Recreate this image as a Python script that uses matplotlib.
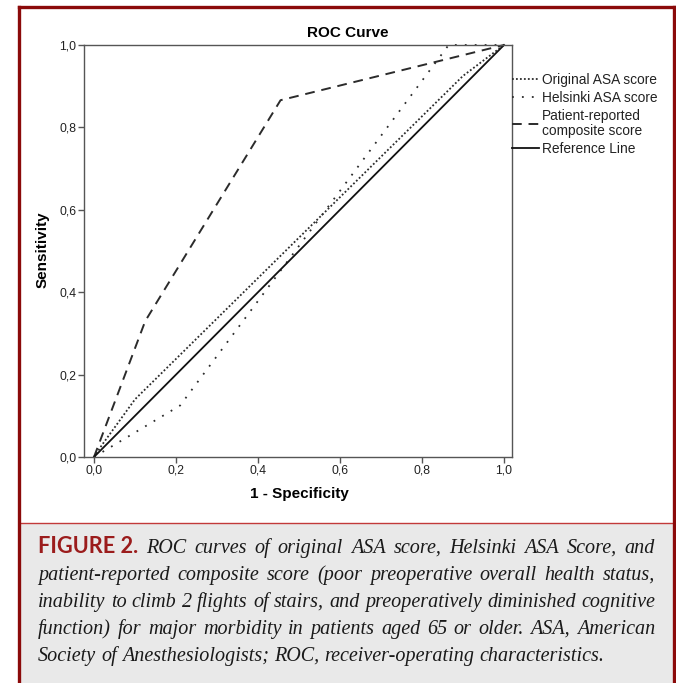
import numpy as np
import matplotlib.pyplot as plt
from matplotlib.patches import Rectangle
from matplotlib.lines import Line2D

# ROC curve data (1 - specificity, sensitivity)
orig_fpr = [0.0, 0.02, 0.10, 0.90, 1.0]
orig_tpr = [0.0, 0.03, 0.14, 0.925, 1.0]

hels_fpr = [0.0, 0.21, 0.865, 1.0]
hels_tpr = [0.0, 0.125, 1.0, 1.0]

pat_fpr = [0.0, 0.125, 0.455, 1.0]
pat_tpr = [0.0, 0.33, 0.866, 1.0]

ref_fpr = [0.0, 1.0]
ref_tpr = [0.0, 1.0]

series_labels = ["Original ASA score", "Helsinki ASA score",
                 "Patient-reported\ncomposite score", "Reference Line"]
tick_vals = [0.0, 0.2, 0.4, 0.6, 0.8, 1.0]
tick_labels = ["0,0", "0,2", "0,4", "0,6", "0,8", "1,0"]

caption_lines = [
    "ROC curves of original ASA score, Helsinki ASA Score, and",
    "patient-reported composite score (poor preoperative overall health status,",
    "inability to climb 2 flights of stairs, and preoperatively diminished cognitive",
    "function) for major morbidity in patients aged 65 or older. ASA, American",
    "Society of Anesthesiologists; ROC, receiver-operating characteristics.",
]

W, H = 676, 683
fig = plt.figure(figsize=(W / 100, H / 100), dpi=100)


def fx(px):
    return px / W


def fy(py):
    return 1 - py / H


# frame + caption background
fig.add_artist(Rectangle((fx(19), fy(H + 5)), fx(674) - fx(19), fy(523) - fy(H + 5),
                         transform=fig.transFigure, facecolor='#e9e9e9',
                         edgecolor='none', zorder=0))
fig.add_artist(Line2D([fx(19), fx(674)], [fy(523), fy(523)],
                      transform=fig.transFigure, color='#c23a3a', lw=1.0))
frame_kw = dict(transform=fig.transFigure, color='#8b0a0a', lw=2.4,
                solid_capstyle='projecting')
fig.add_artist(Line2D([fx(19), fx(19)], [fy(7), fy(H + 5)], **frame_kw))
fig.add_artist(Line2D([fx(674), fx(674)], [fy(7), fy(H + 5)], **frame_kw))
fig.add_artist(Line2D([fx(19), fx(674)], [fy(7), fy(7)], **frame_kw))

# axes
ax = fig.add_axes([fx(84), fy(457), fx(512) - fx(84), fy(45) - fy(457)])
lc = '#2b2b2b'
ax.plot(orig_fpr, orig_tpr, color=lc, lw=1.3, ls=(0, (1, 1.2)), clip_on=False,
        label=series_labels[0])
ax.plot(hels_fpr, hels_tpr, color=lc, lw=1.3, ls=(0, (1, 4.5)), clip_on=False,
        label=series_labels[1])
ax.plot(pat_fpr, pat_tpr, color=lc, lw=1.4, ls=(0, (5, 3.5)), clip_on=False,
        label=series_labels[2])
ax.plot(ref_fpr, ref_tpr, color='#111111', lw=1.3, clip_on=False,
        label=series_labels[3])

ax.set_xlim(-10 / 410, 418 / 410)
ax.set_ylim(0, 1)
ax.set_xticks(tick_vals)
ax.set_xticklabels(tick_labels)
ax.set_yticks(tick_vals)
ax.set_yticklabels(tick_labels)
for s in ax.spines.values():
    s.set_color('#555555')
    s.set_linewidth(1.0)
ax.tick_params(length=4, width=1.0, color='#555555', labelsize=8.8,
               labelcolor='#222222', pad=1.5)
for lab in ax.get_xticklabels() + ax.get_yticklabels():
    lab.set_family('Liberation Sans')

leg = ax.legend(loc='upper left', bbox_to_anchor=(1.0, (457 - 73) / 412),
                frameon=False, borderpad=0, borderaxespad=0,
                handlelength=1.95, handletextpad=0.2, labelspacing=0.28,
                prop={'family': 'Liberation Sans', 'size': 9.9})
for t in leg.get_texts():
    t.set_color('#222222')
    t.set_linespacing(1.1)

fig.text(fx(348), fy(33), "ROC Curve", ha='center', va='center',
         fontsize=11, fontweight='bold', family='Liberation Sans')
fig.text(fx(299), fy(494), "1 - Specificity", ha='center', va='center',
         fontsize=11, fontweight='bold', family='Liberation Sans')
fig.text(fx(43), fy(250), "Sensitivity", ha='center', va='center',
         rotation=90, fontsize=11, fontweight='bold', family='Liberation Sans')

# caption, justified word by word
fig.canvas.draw()
renderer = fig.canvas.get_renderer()
x_left, x_right = 38, 655
baselines = [553, 580, 607, 634, 661]


def word_w(s, kw):
    t = fig.text(0, 0, s, **kw)
    w = t.get_window_extent(renderer).width
    t.remove()
    return w


def styles(size):
    it_kw = dict(family='Liberation Serif', style='italic', fontsize=size,
                 color='#1a1a1a', va='baseline', ha='left')
    lead_kw = dict(family='Lato', fontweight='bold', fontsize=size + 1.2,
                   color='#9b1c1c', va='baseline', ha='left')
    return it_kw, lead_kw


def line_items(i, it_kw, lead_kw):
    items = [("FIGURE 2.", lead_kw)] if i == 0 else []
    return items + [(w, it_kw) for w in caption_lines[i].split(' ')]


size = 14.5
while True:
    it_kw, lead_kw = styles(size)
    min_sp = 0.22 * size * 100 / 72
    ok = True
    for i in range(len(caption_lines) - 1):
        items = line_items(i, it_kw, lead_kw)
        tot = sum(word_w(w, kw) for w, kw in items) + min_sp * (len(items) - 1)
        if tot > x_right - x_left:
            ok = False
            break
    if ok or size < 10:
        break
    size -= 0.25

it_kw, lead_kw = styles(size)
space_w = word_w("a b", it_kw) - word_w("ab", it_kw)
for i, yb in enumerate(baselines):
    items = line_items(i, it_kw, lead_kw)
    widths = [word_w(w, kw) for w, kw in items]
    if i == len(caption_lines) - 1:
        gap = space_w
    else:
        gap = (x_right - x_left - sum(widths)) / (len(items) - 1)
    x = x_left
    for (w, kw), wd in zip(items, widths):
        fig.text(fx(x), fy(yb), w, **kw)
        x += wd + gap

fig.savefig("out.png", dpi=100)
